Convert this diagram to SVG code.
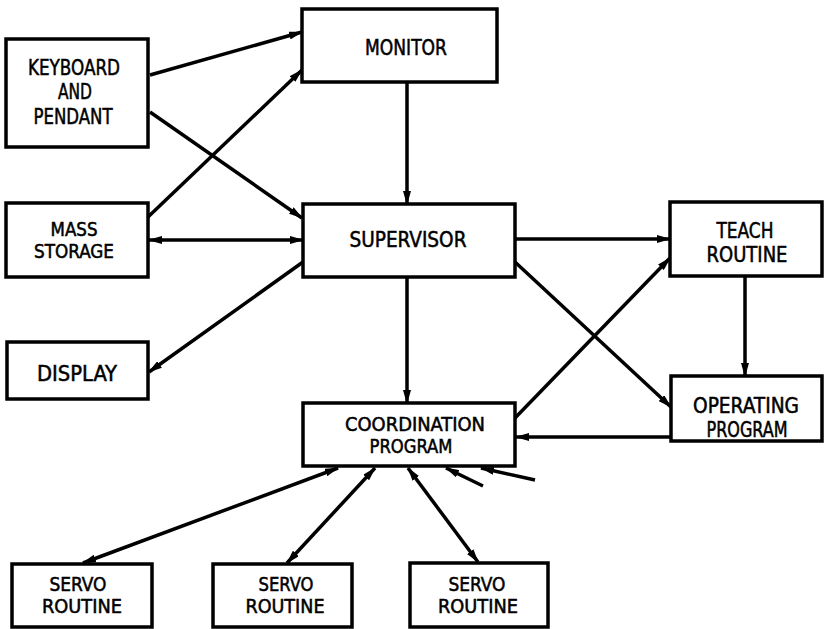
<svg xmlns="http://www.w3.org/2000/svg" width="825" height="629" viewBox="0 0 825 629">
<style>
rect{fill:#fff;stroke:#000;stroke-width:3.5}
text{font-family:"DejaVu Sans Condensed","DejaVu Sans",sans-serif;font-size:21px;text-anchor:middle;fill:#000;stroke:#000;stroke-width:0.5}
text.t{font-size:19px}
.c line{stroke:#000;stroke-width:3.5;fill:none}
</style>
<defs>
<marker id="a" markerWidth="14" markerHeight="8" refX="13" refY="4" orient="auto-start-reverse" markerUnits="userSpaceOnUse"><path d="M0,0 L14,4 L0,8 Z" fill="#000"/></marker>
</defs>
<g class="c" id="connectors">
<line x1="150" y1="75" x2="302" y2="32" marker-end="url(#a)"/>
<line x1="150" y1="112" x2="302" y2="218" marker-end="url(#a)"/>
<line x1="148" y1="217" x2="302" y2="70" marker-end="url(#a)"/>
<line x1="149" y1="240" x2="303" y2="240" marker-start="url(#a)" marker-end="url(#a)"/>
<line x1="303" y1="262" x2="149" y2="372" marker-end="url(#a)"/>
<line x1="407" y1="82" x2="407" y2="204" marker-end="url(#a)"/>
<line x1="407" y1="277" x2="407" y2="403" marker-end="url(#a)"/>
<line x1="515" y1="239" x2="670" y2="239" marker-end="url(#a)"/>
<line x1="515" y1="262" x2="671" y2="407" marker-end="url(#a)"/>
<line x1="515" y1="418" x2="670" y2="258" marker-end="url(#a)"/>
<line x1="745" y1="276" x2="745" y2="376" marker-end="url(#a)"/>
<line x1="671" y1="437" x2="516" y2="437" marker-end="url(#a)"/>
<line x1="83" y1="563" x2="338" y2="468" marker-start="url(#a)" marker-end="url(#a)"/>
<line x1="287" y1="563" x2="375" y2="468" marker-start="url(#a)" marker-end="url(#a)"/>
<line x1="478" y1="562" x2="408" y2="468" marker-start="url(#a)" marker-end="url(#a)"/>
<line x1="483" y1="486" x2="446" y2="468" marker-end="url(#a)"/>
<line x1="535" y1="480" x2="481" y2="468" marker-end="url(#a)"/>
</g>
<g id="keyboard"><rect x="6" y="39" width="142" height="108"/><text x="74" y="75" textLength="92" lengthAdjust="spacingAndGlyphs">KEYBOARD</text><text x="75" y="99" textLength="34" lengthAdjust="spacingAndGlyphs">AND</text><text x="73" y="124" textLength="79" lengthAdjust="spacingAndGlyphs">PENDANT</text></g>
<g id="monitor"><rect x="302" y="9" width="195" height="73"/><text x="406" y="55" textLength="82" lengthAdjust="spacingAndGlyphs">MONITOR</text></g>
<g id="mass"><rect x="6" y="203" width="142" height="74"/><text class="t" x="74" y="236" textLength="47" lengthAdjust="spacingAndGlyphs">MASS</text><text class="t" x="74" y="258" textLength="80" lengthAdjust="spacingAndGlyphs">STORAGE</text></g>
<g id="supervisor"><rect x="303" y="204" width="212" height="73"/><text x="408" y="247" textLength="117" lengthAdjust="spacingAndGlyphs">SUPERVISOR</text></g>
<g id="display"><rect x="7" y="342" width="141" height="57"/><text x="77" y="381" textLength="80" lengthAdjust="spacingAndGlyphs">DISPLAY</text></g>
<g id="teach"><rect x="670" y="202" width="152" height="74"/><text x="745" y="238" textLength="57" lengthAdjust="spacingAndGlyphs">TEACH</text><text x="747" y="262" textLength="81" lengthAdjust="spacingAndGlyphs">ROUTINE</text></g>
<g id="operating"><rect x="671" y="376" width="151" height="65"/><text x="746" y="413" textLength="106" lengthAdjust="spacingAndGlyphs">OPERATING</text><text x="747" y="437" textLength="81" lengthAdjust="spacingAndGlyphs">PROGRAM</text></g>
<g id="coordination"><rect x="303" y="403" width="212" height="63"/><text class="t" x="415" y="431" textLength="140" lengthAdjust="spacingAndGlyphs">COORDINATION</text><text class="t" x="411" y="453" textLength="83" lengthAdjust="spacingAndGlyphs">PROGRAM</text></g>
<g id="servo1"><rect x="12" y="564" width="140" height="63"/><text class="t" x="78" y="591" textLength="57" lengthAdjust="spacingAndGlyphs">SERVO</text><text class="t" x="82" y="613" textLength="80" lengthAdjust="spacingAndGlyphs">ROUTINE</text></g>
<g id="servo2"><rect x="213" y="564" width="139" height="63"/><text class="t" x="286" y="591" textLength="55" lengthAdjust="spacingAndGlyphs">SERVO</text><text class="t" x="285" y="613" textLength="79" lengthAdjust="spacingAndGlyphs">ROUTINE</text></g>
<g id="servo3"><rect x="410" y="563" width="138" height="64"/><text class="t" x="477" y="591" textLength="57" lengthAdjust="spacingAndGlyphs">SERVO</text><text class="t" x="478" y="613" textLength="80" lengthAdjust="spacingAndGlyphs">ROUTINE</text></g>
</svg>
